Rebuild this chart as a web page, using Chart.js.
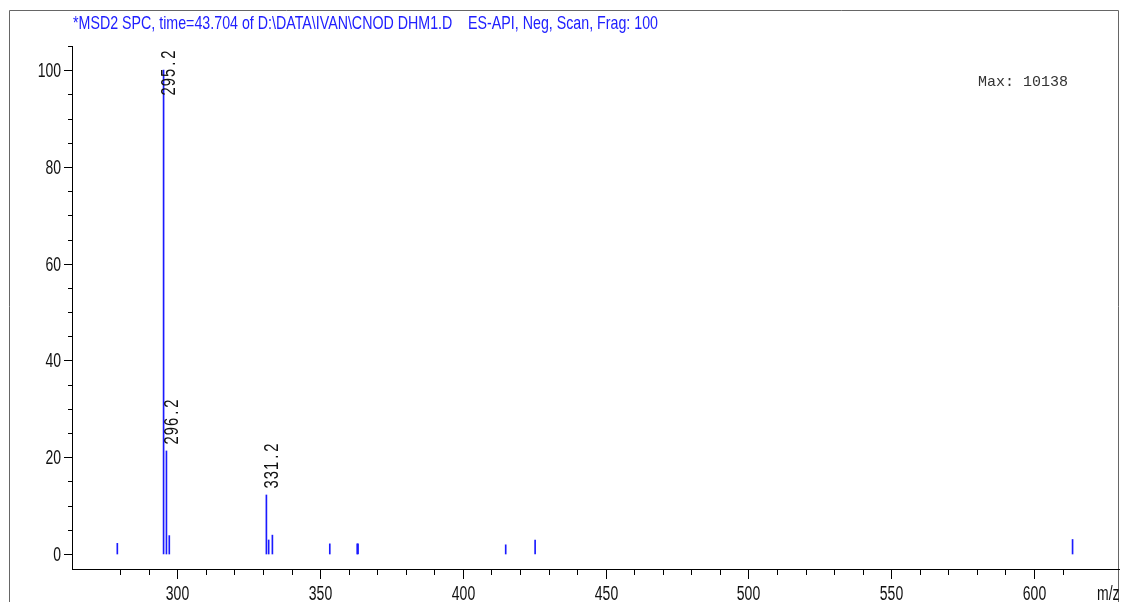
<!DOCTYPE html>
<html>
<head>
<meta charset="utf-8">
<script src="https://cdn.jsdelivr.net/npm/chart.js@4.4.1/dist/chart.umd.min.js"></script>
<style>
  html, body { margin: 0; padding: 0; background: #fff; }
  canvas { display: block; }
</style>
</head>
<body>
<canvas id="spec" width="1122" height="602"></canvas>
<script>
// m/z of each ion line and its relative abundance (%)
const mzValues = [279.0, 295.2, 296.2, 297.2, 331.2, 332.0, 333.3, 353.4, 363.0, 363.3, 415.0, 425.3, 613.5];
const abundance = [2.2, 100, 21.3, 3.8, 12.2, 2.9, 3.9, 2.1, 2.1, 2.1, 1.9, 2.9, 3.0];
const labeledPeaks = ['295.2', '296.2', '331.2'];

const titleText = '*MSD2 SPC, time=43.704 of D:\\DATA\\IVAN\\CNOD DHM1.D    ES-API, Neg, Scan, Frag: 100';
const maxText = 'Max: 10138';
const xAxisName = 'm/z';

const SANS = '"Liberation Sans", Arial, sans-serif';

// text drawn squeezed horizontally, like the instrument printout
function narrowText(c, text, x, y, align, sx) {
  c.save();
  c.translate(x, y);
  c.scale(sx, 1);
  c.textAlign = align;
  c.fillText(text, 0, 0);
  c.restore();
}

const spectrumPlugin = {
  id: 'spectrum',
  beforeDraw(chart) {
    const c = chart.ctx;
    c.save();
    c.fillStyle = '#fff';
    c.fillRect(0, 0, chart.width, chart.height);
    c.strokeStyle = '#666';
    c.lineWidth = 1;
    c.beginPath();
    c.moveTo(9.5, chart.height);
    c.lineTo(9.5, 10.5);
    c.lineTo(1118.5, 10.5);
    c.lineTo(1118.5, chart.height);
    c.stroke();
    c.restore();
  },
  afterDraw(chart) {
    const c = chart.ctx;
    const xs = chart.scales.x;
    const ys = chart.scales.y;
    const area = chart.chartArea;
    c.save();

    // tick marks and labels
    c.strokeStyle = '#000';
    c.fillStyle = '#111';
    c.lineWidth = 1;
    c.font = '20px ' + SANS;
    c.textBaseline = 'alphabetic';
    xs.ticks.forEach(t => {
      const v = t.value;
      if (Math.abs(v / 10 - Math.round(v / 10)) > 1e-6) return;
      const major = Math.round(v) % 50 === 0;
      const px = Math.round(xs.getPixelForValue(v)) + 0.5;
      c.beginPath();
      c.moveTo(px, area.bottom);
      c.lineTo(px, area.bottom + (major ? 10 : 6));
      c.stroke();
      if (major) narrowText(c, String(Math.round(v)), px, 599.5, 'center', 0.7);
    });
    narrowText(c, xAxisName, 1097, 599.5, 'left', 0.7);

    c.textBaseline = 'middle';
    ys.ticks.forEach(t => {
      const v = t.value;
      if (Math.abs(v / 5 - Math.round(v / 5)) > 1e-6) return;
      const major = Math.round(v) % 20 === 0;
      const py = Math.round(ys.getPixelForValue(v)) + 0.5;
      c.beginPath();
      c.moveTo(area.left, py);
      c.lineTo(area.left - (major ? 8 : 4), py);
      c.stroke();
      if (major) narrowText(c, String(Math.round(v)), 61, py + 1, 'right', 0.7);
    });

    // title
    c.fillStyle = '#2020ff';
    c.textBaseline = 'alphabetic';
    c.font = '19px ' + SANS;
    const tw = c.measureText(titleText).width;
    narrowText(c, titleText, 73, 29, 'left', 585 / tw);

    // max abundance note
    c.fillStyle = '#333';
    c.font = '15px "Liberation Mono", "Courier New", monospace';
    c.textAlign = 'left';
    c.fillText(maxText, 978, 86);

    // peak labels, rotated, above their lines
    const bars = chart.getDatasetMeta(0).data;
    c.fillStyle = '#111';
    c.font = '21px ' + SANS;
    c.textBaseline = 'alphabetic';
    const adv = 9.2;
    labeledPeaks.forEach(lbl => {
      const i = mzValues.findIndex(m => m.toFixed(1) === lbl);
      if (i < 0) return;
      const bar = bars[i];
      const len = lbl.length * adv;
      const startY = Math.max(bar.y - 6, area.top + 4 + len);
      c.save();
      c.translate(bar.x + 11.5, startY);
      c.rotate(-Math.PI / 2);
      for (let k = 0; k < lbl.length; k++) {
        const ch = lbl[k];
        const w = c.measureText(ch).width * 0.7;
        c.save();
        c.translate(k * adv + (adv - w) / 2, 0);
        c.scale(0.7, 1);
        c.textAlign = 'left';
        c.fillText(ch, 0, 0);
        c.restore();
      }
      c.restore();
    });

    c.restore();
  }
};

const ctx = document.getElementById('spec').getContext('2d');
new Chart(ctx, {
  type: 'bar',
  data: {
    datasets: [{
      data: mzValues.map((m, i) => ({ x: m, y: abundance[i] })),
      backgroundColor: '#1a1aff',
      borderWidth: 0,
      barThickness: 1,
      grouped: false,
    }],
  },
  options: {
    responsive: false,
    animation: false,
    events: [],
    devicePixelRatio: 1,
    layout: {
      padding: { top: 46, left: 9, right: 3, bottom: 0 },
    },
    plugins: {
      legend: { display: false },
      tooltip: { enabled: false },
      title: { display: false },
    },
    scales: {
      x: {
        type: 'linear',
        offset: false,
        min: 263.13,
        max: 629.76,
        grid: { display: false, offset: false },
        border: { display: true, color: '#000', width: 1 },
        ticks: { display: false, stepSize: 10, autoSkip: false },
        afterFit(scale) { scale.height = 33; },
      },
      y: {
        type: 'linear',
        min: -3.1,
        max: 105,
        grid: { display: false },
        border: { display: true, color: '#000', width: 1 },
        ticks: { display: false, stepSize: 5, autoSkip: false },
        afterFit(scale) { scale.width = 63; },
      },
    },
  },
  plugins: [spectrumPlugin],
});
</script>
</body>
</html>
